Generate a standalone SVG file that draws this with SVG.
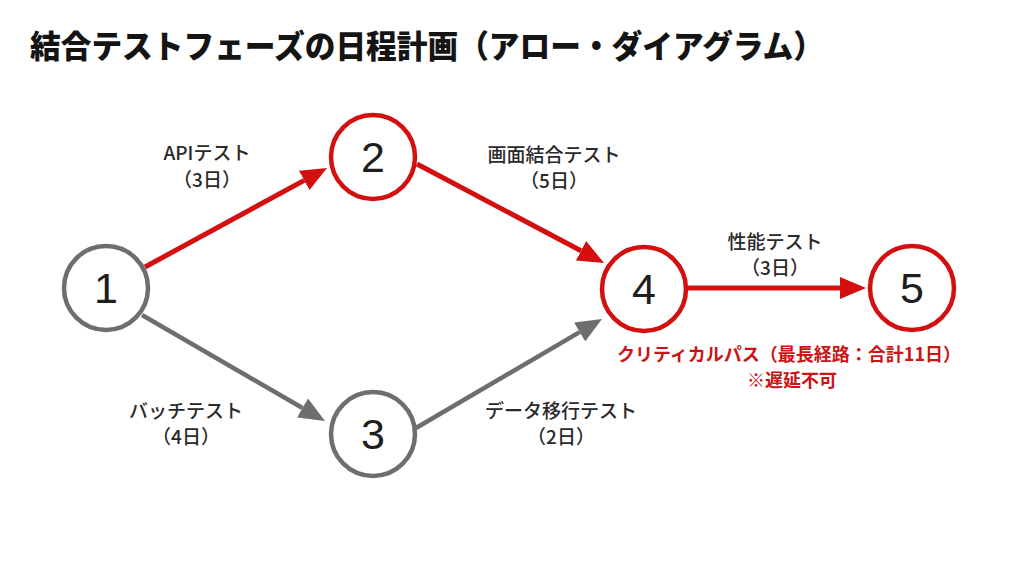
<svg xmlns="http://www.w3.org/2000/svg" width="1024" height="576" viewBox="0 0 1024 576">
<style>
  .title{font-family:"Noto Sans CJK JP","Noto Sans",sans-serif;font-size:32px;font-weight:900;fill:#141414}
  .node{fill:#fff;stroke-width:4.5}
  .red{stroke:#d40f0f}
  .gray{stroke:#6e6e6e}
  .num{font-family:"Liberation Sans","Noto Sans",sans-serif;font-size:43px;fill:#1e1e1e;text-anchor:middle}
  .lbl{font-family:"Noto Sans CJK JP","Noto Sans",sans-serif;font-size:19px;font-weight:500;fill:#2a2a2a;text-anchor:middle}
  .crit{font-family:"Noto Sans CJK JP","Noto Sans",sans-serif;font-size:18px;font-weight:700;fill:#cc1414;text-anchor:middle}
  .edge{fill:none;stroke-linecap:butt}
  .er{stroke:#d40f0f;stroke-width:5}
  .eg{stroke:#6e6e6e;stroke-width:4.5}
</style>
<defs>
  <marker id="ar" viewBox="0 0 26 22" refX="0" refY="11" markerWidth="26" markerHeight="22" markerUnits="userSpaceOnUse" orient="auto">
    <path d="M0,0 L26,11 L0,22 z" fill="#d40f0f"/>
  </marker>
  <marker id="ag" viewBox="0 0 26 22" refX="0" refY="11" markerWidth="26" markerHeight="22" markerUnits="userSpaceOnUse" orient="auto">
    <path d="M0,0 L26,11 L0,22 z" fill="#6e6e6e"/>
  </marker>
</defs>
<rect width="1024" height="576" fill="#ffffff"/>
<text class="title" x="30" y="58" textLength="794" lengthAdjust="spacingAndGlyphs">結合テストフェーズの日程計画（アロー・ダイアグラム）</text>

<g id="connectors">
  <line class="edge er" x1="145" y1="267" x2="304.2" y2="180.4" marker-end="url(#ar)"/>
  <line class="edge er" x1="417" y1="164" x2="581" y2="250.8" marker-end="url(#ar)"/>
  <line class="edge er" x1="688" y1="288" x2="840" y2="288" marker-end="url(#ar)"/>
  <line class="edge eg" x1="142" y1="315" x2="302.5" y2="408" marker-end="url(#ag)"/>
  <line class="edge eg" x1="416" y1="428" x2="579.6" y2="332.1" marker-end="url(#ag)"/>
</g>

<g id="labels">
  <text class="lbl" x="207" y="160">APIテスト</text>
  <text class="lbl" x="207" y="187">（3日）</text>
  <text class="lbl" x="554" y="162">画面結合テスト</text>
  <text class="lbl" x="554" y="188">（5日）</text>
  <text class="lbl" x="775" y="249">性能テスト</text>
  <text class="lbl" x="775" y="275">（3日）</text>
  <text class="lbl" x="186" y="418">バッチテスト</text>
  <text class="lbl" x="186" y="444">（4日）</text>
  <text class="lbl" x="561" y="418">データ移行テスト</text>
  <text class="lbl" x="561" y="444">（2日）</text>
  <text class="crit" x="789" y="361">クリティカルパス（最長経路：合計11日）</text>
  <text class="crit" x="792" y="387">※遅延不可</text>
</g>

<g id="node1"><circle class="node gray" cx="106" cy="288" r="42"/><text class="num" x="106" y="303">1</text></g>
<g id="node2"><circle class="node red" cx="373" cy="157" r="42"/><text class="num" x="373" y="172">2</text></g>
<g id="node3"><circle class="node gray" cx="373" cy="434" r="42"/><text class="num" x="373" y="449">3</text></g>
<g id="node4"><circle class="node red" cx="644" cy="289" r="42"/><text class="num" x="644" y="304">4</text></g>
<g id="node5"><circle class="node red" cx="912" cy="288" r="42"/><text class="num" x="912" y="303">5</text></g>
</svg>
